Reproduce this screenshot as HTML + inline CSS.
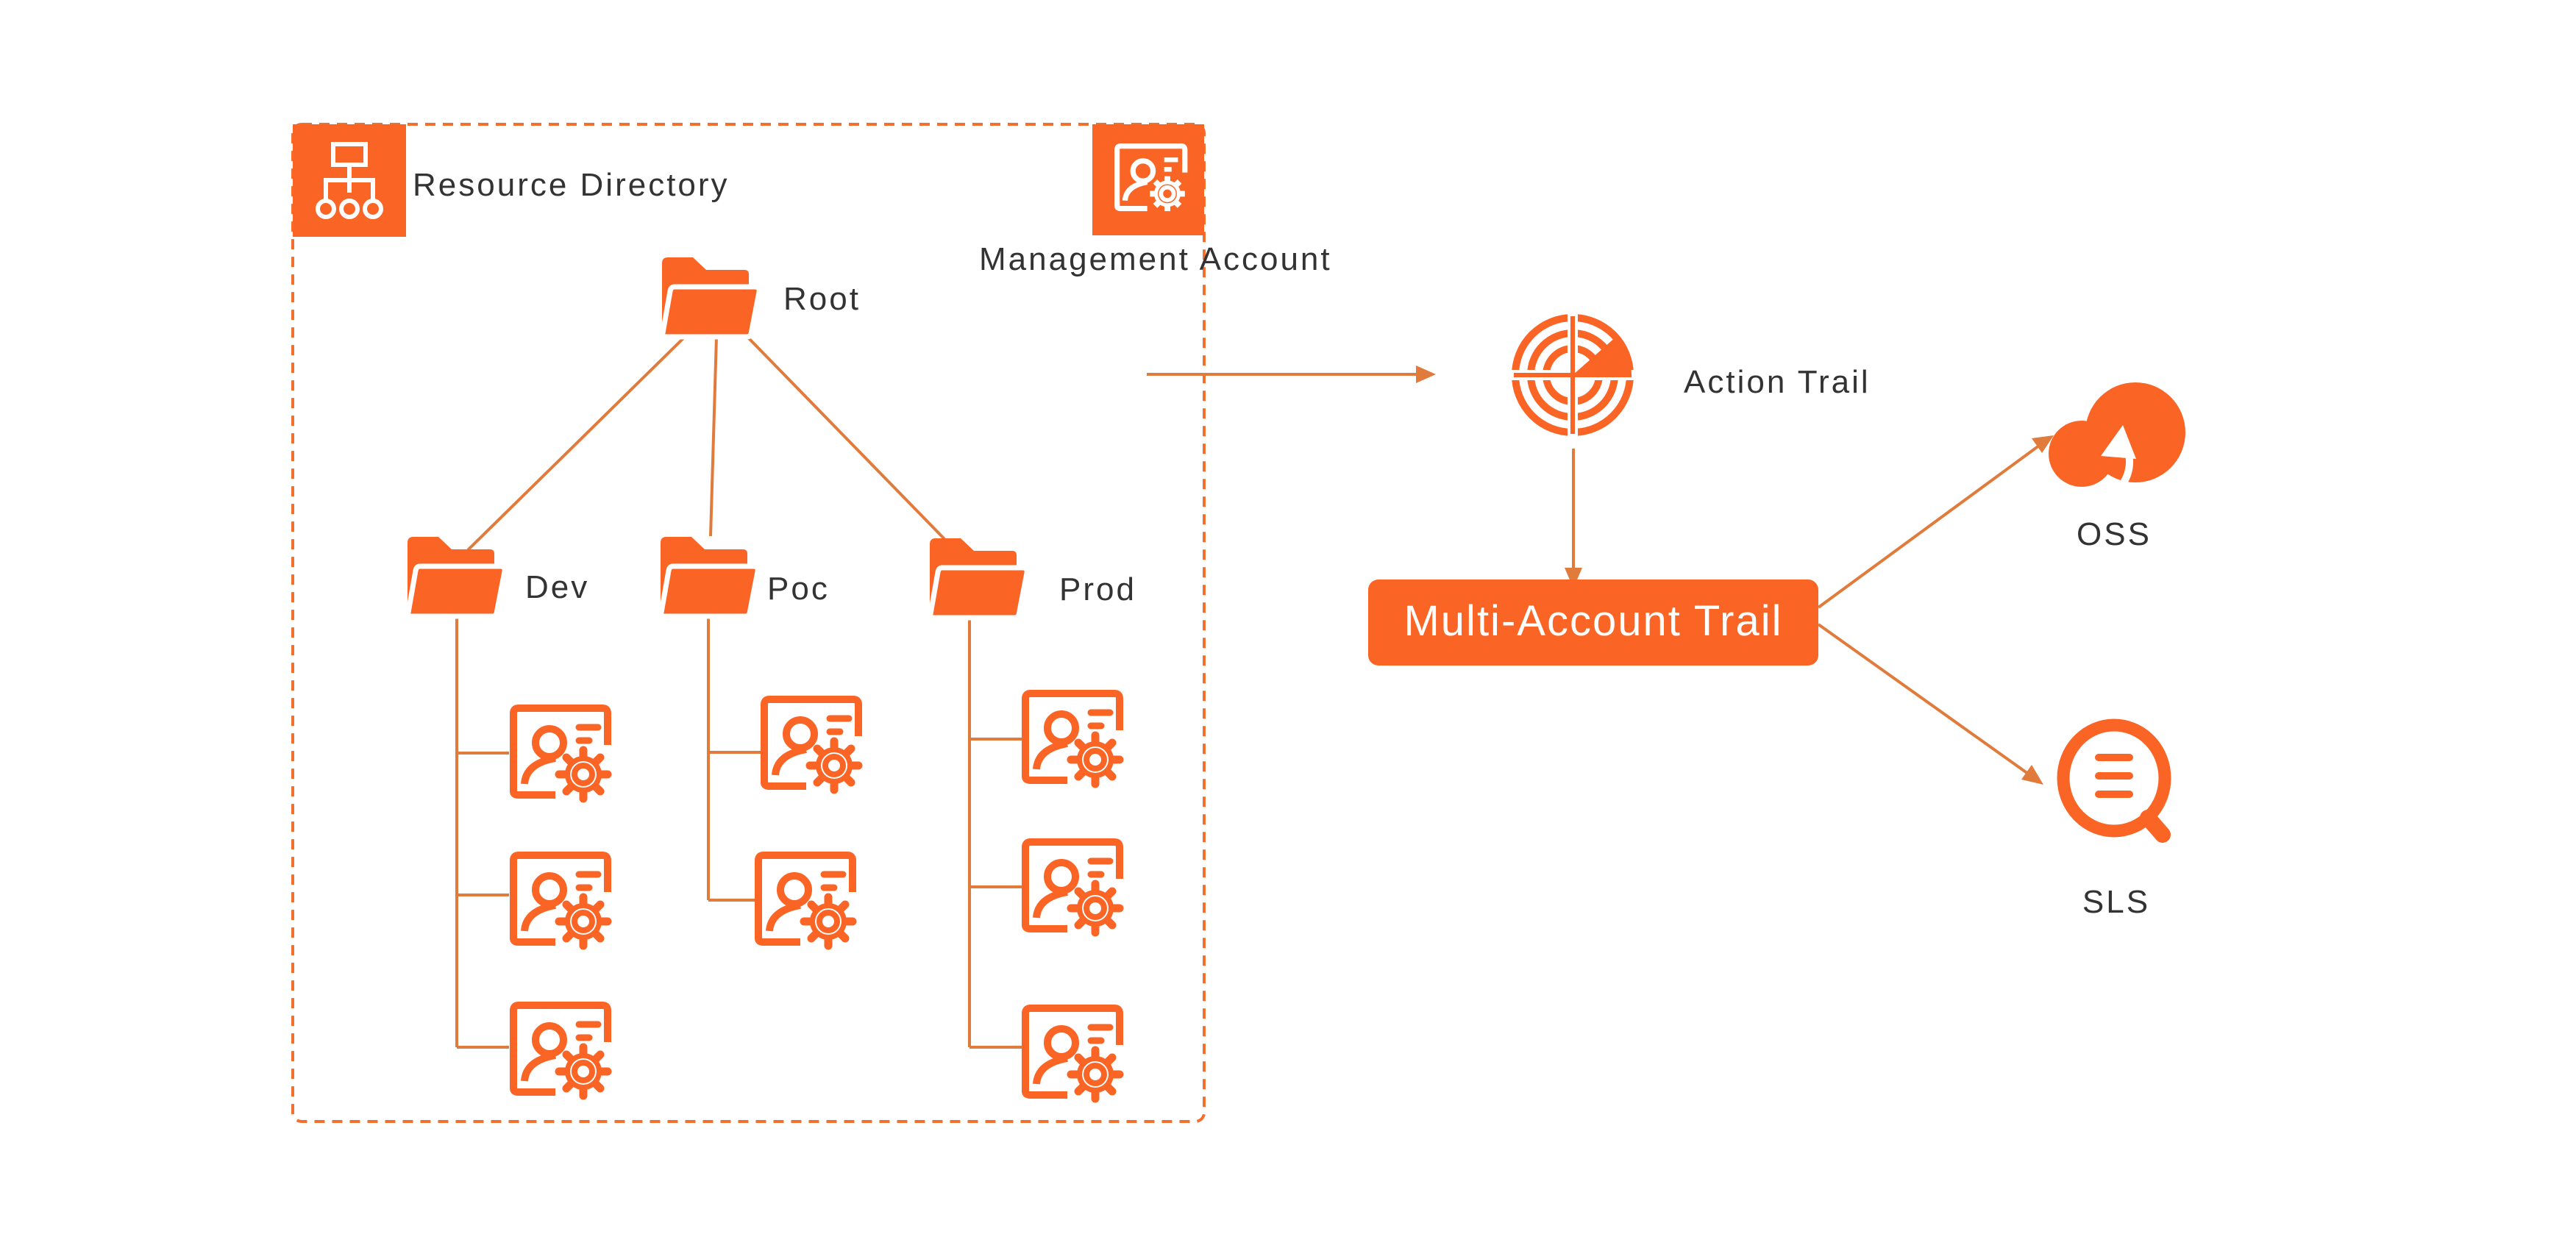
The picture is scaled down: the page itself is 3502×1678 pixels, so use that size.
<!DOCTYPE html>
<html><head><meta charset="utf-8"><style>
html,body{margin:0;padding:0;background:#fff;}
svg{display:block;}
text{font-family:"Liberation Sans",sans-serif;fill:#333;font-size:44px;letter-spacing:3px;}
</style></head><body>
<svg width="3502" height="1678" viewBox="0 0 3502 1678" xmlns="http://www.w3.org/2000/svg">
<defs>
<g id="folder">
  <path d="M0,8 Q0,0 8,0 L42,0 L60,17 L112,17 Q118,17 118,23 L118,80 L0,100 Z" fill="#FA6425"/>
  <path d="M17,40 L126,40 Q133,40 132,47 L121,104 Q120,108 115,108 L5,108 Q0,108 1,103 L11,46 Q12,40 17,40 Z" fill="#FA6425" stroke="#fff" stroke-width="7"/>
</g>
<g id="acct">
  <path d="M5,118 L5,12 Q5,5 12,5 L126,5 Q133,5 133,12 L133,55" fill="none" stroke="#FA6425" stroke-width="10"/>
  <path d="M5,110 L5,118 Q5,123 12,123 L62,123" fill="none" stroke="#FA6425" stroke-width="10"/>
  <circle cx="54" cy="52" r="19" fill="none" stroke="#FA6425" stroke-width="10"/>
  <path d="M20,108 Q22,80 62,73" fill="none" stroke="#FA6425" stroke-width="10"/>
  <line x1="94" y1="31" x2="120" y2="31" stroke="#FA6425" stroke-width="9" stroke-linecap="round"/>
  <line x1="94" y1="49" x2="108" y2="49" stroke="#FA6425" stroke-width="9" stroke-linecap="round"/>
  <circle cx="100" cy="95" r="38" fill="#fff"/>
  <g stroke="#FA6425" stroke-width="11" stroke-linecap="round">
    <line x1="100" y1="62" x2="100" y2="128"/>
    <line x1="67" y1="95" x2="133" y2="95"/>
    <line x1="77" y1="72" x2="123" y2="118"/>
    <line x1="123" y1="72" x2="77" y2="118"/>
  </g>
  <circle cx="100" cy="95" r="25" fill="#FA6425"/>
  <circle cx="100" cy="95" r="18" fill="#fff"/>
  <circle cx="100" cy="95" r="12" fill="none" stroke="#FA6425" stroke-width="8"/>
</g>
</defs>

<rect x="398" y="169" width="1239" height="1356" rx="12" fill="none" stroke="#F07030" stroke-width="4" stroke-dasharray="14,10"/>

<rect x="398" y="169" width="154" height="153" fill="#FA6425"/>
<g fill="none" stroke="#fff" stroke-width="6">
  <rect x="453" y="196" width="44" height="28"/>
  <line x1="475" y1="224" x2="475" y2="262"/>
  <path d="M443,272 L443,245 L507,245 L507,272"/>
  <circle cx="443" cy="284" r="11"/>
  <circle cx="475" cy="284" r="11"/>
  <circle cx="507" cy="284" r="11"/>
</g>
<text x="561" y="266">Resource Directory</text>

<rect x="1485" y="169" width="152" height="151" fill="#FA6425"/>
<g transform="translate(1515,195) scale(0.72)">
  <path d="M5,118 L5,12 Q5,5 12,5 L126,5 Q133,5 133,12 L133,55" fill="none" stroke="#fff" stroke-width="10"/>
  <path d="M5,110 L5,118 Q5,123 12,123 L62,123" fill="none" stroke="#fff" stroke-width="10"/>
  <circle cx="54" cy="52" r="19" fill="none" stroke="#fff" stroke-width="10"/>
  <path d="M20,108 Q22,80 62,73" fill="none" stroke="#fff" stroke-width="10"/>
  <line x1="94" y1="31" x2="120" y2="31" stroke="#fff" stroke-width="9"/>
  <line x1="94" y1="49" x2="108" y2="49" stroke="#fff" stroke-width="9"/>
  <circle cx="100" cy="95" r="38" fill="#FA6425"/>
  <g stroke="#fff" stroke-width="11"><line x1="100" y1="62" x2="100" y2="128"/><line x1="67" y1="95" x2="133" y2="95"/><line x1="77" y1="72" x2="123" y2="118"/><line x1="123" y1="72" x2="77" y2="118"/></g>
  <circle cx="100" cy="95" r="25" fill="#fff"/><circle cx="100" cy="95" r="18" fill="#FA6425"/>
  <circle cx="100" cy="95" r="12" fill="none" stroke="#fff" stroke-width="8"/>
</g>
<text x="1331" y="367">Management Account</text>

<g stroke="#E07B3C" stroke-width="4" fill="none">
  <line x1="931" y1="458" x2="636" y2="748"/>
  <line x1="974" y1="458" x2="966" y2="729"/>
  <line x1="1016" y1="458" x2="1284" y2="733"/>
  <line x1="621" y1="840" x2="621" y2="1424"/>
  <line x1="621" y1="1024" x2="692" y2="1024"/>
  <line x1="621" y1="1217" x2="692" y2="1217"/>
  <line x1="621" y1="1424" x2="692" y2="1424"/>
  <line x1="963" y1="840" x2="963" y2="1224"/>
  <line x1="963" y1="1023" x2="1034" y2="1023"/>
  <line x1="963" y1="1224" x2="1026" y2="1224"/>
  <line x1="1318" y1="842" x2="1318" y2="1424"/>
  <line x1="1318" y1="1005" x2="1389" y2="1005"/>
  <line x1="1318" y1="1206" x2="1389" y2="1206"/>
  <line x1="1318" y1="1424" x2="1389" y2="1424"/>
</g>

<use href="#folder" x="900" y="350"/>
<text x="1065" y="421">Root</text>
<use href="#folder" x="554" y="730"/>
<text x="714" y="813">Dev</text>
<use href="#folder" x="898" y="730"/>
<text x="1043" y="815">Poc</text>
<use href="#folder" x="1264" y="732"/>
<text x="1440" y="816">Prod</text>

<use href="#acct" x="693" y="958"/>
<use href="#acct" x="693" y="1158"/>
<use href="#acct" x="693" y="1362"/>
<use href="#acct" x="1034" y="946"/>
<use href="#acct" x="1026" y="1158"/>
<use href="#acct" x="1389" y="938"/>
<use href="#acct" x="1389" y="1140"/>
<use href="#acct" x="1389" y="1366"/>

<g stroke="#E07B3C" stroke-width="4" fill="#E07B3C">
  <line x1="1559" y1="509" x2="1930" y2="509"/>
  <polygon points="1952,509 1925,497 1925,521" stroke="none"/>
  <line x1="2139" y1="610" x2="2139" y2="775"/>
  <polygon points="2139,800 2127,772 2151,772" stroke="none"/>
  <line x1="2472" y1="826" x2="2772" y2="606"/>
  <polygon points="2792,592 2762,596 2776,616" stroke="none"/>
  <line x1="2472" y1="849" x2="2757" y2="1052"/>
  <polygon points="2778,1067 2762,1040 2748,1060" stroke="none"/>
</g>

<g fill="none" stroke="#FA6425" stroke-width="10">
  <circle cx="2138" cy="510" r="78"/>
  <circle cx="2138" cy="510" r="57"/>
  <circle cx="2138" cy="510" r="36"/>
</g>
<g stroke="#fff" stroke-width="14"><line x1="2138" y1="425" x2="2138" y2="595"/><line x1="2053" y1="510" x2="2223" y2="510"/></g>
<g stroke="#FA6425" stroke-width="6"><line x1="2138" y1="430" x2="2138" y2="590"/><line x1="2058" y1="510" x2="2218" y2="510"/></g>
<path d="M2138,510 L2198,457 A80,80 0 0 1 2218,510 Z" fill="#FA6425"/>
<text x="2289" y="534">Action Trail</text>

<rect x="1860" y="788" width="612" height="117" rx="14" fill="#FA6425"/>
<text x="2166" y="864" text-anchor="middle" style="fill:#fff;font-size:58px;letter-spacing:2px">Multi-Account Trail</text>

<circle cx="2903" cy="588" r="68" fill="#FA6425"/>
<circle cx="2830" cy="617" r="45" fill="#FA6425"/>
<path d="M2883,662 Q2900,640 2893,612" fill="none" stroke="#fff" stroke-width="10"/>
<polygon points="2886,578 2856,620 2904,624" fill="#fff"/>
<text x="2874" y="741" text-anchor="middle">OSS</text>

<ellipse cx="2874" cy="1058" rx="69" ry="72" fill="none" stroke="#FA6425" stroke-width="17"/>
<line x1="2920" y1="1112" x2="2940" y2="1135" stroke="#FA6425" stroke-width="22" stroke-linecap="round"/>
<g stroke="#FA6425" stroke-width="10" stroke-linecap="round">
  <line x1="2853" y1="1030" x2="2895" y2="1030"/>
  <line x1="2853" y1="1055" x2="2895" y2="1055"/>
  <line x1="2853" y1="1080" x2="2895" y2="1080"/>
</g>
<text x="2877" y="1241" text-anchor="middle">SLS</text>
</svg>
</body></html>
